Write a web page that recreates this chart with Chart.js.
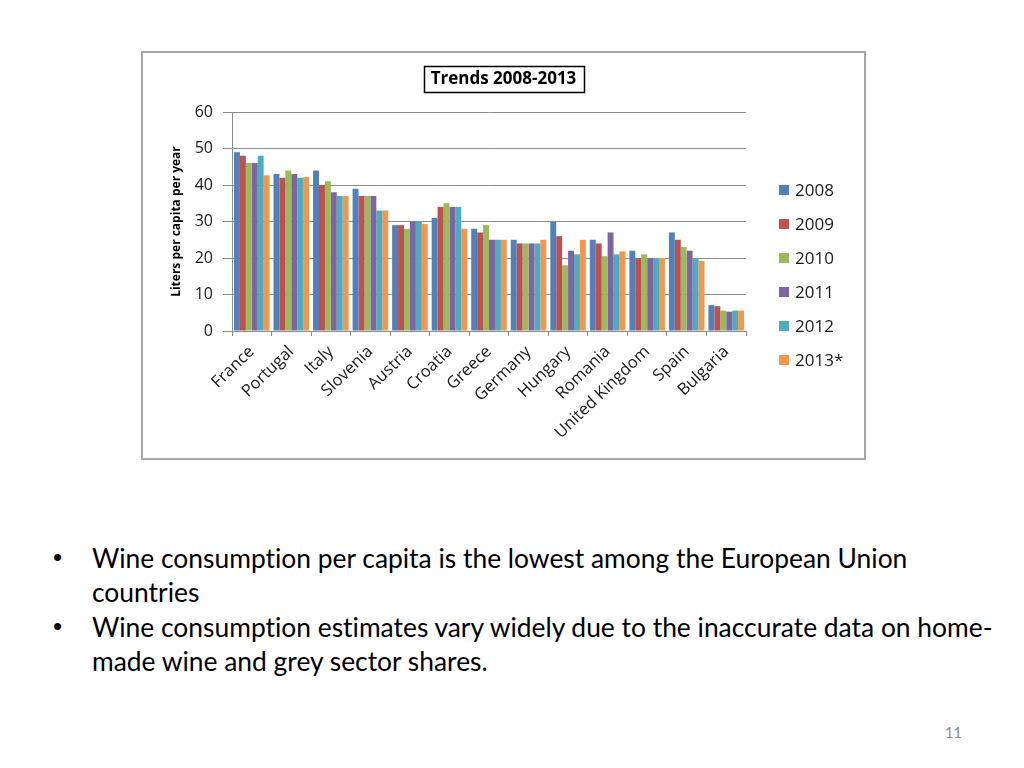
<!DOCTYPE html>
<html>
<head>
<meta charset="utf-8">
<script src="https://cdn.jsdelivr.net/npm/chart.js@4.4.1/dist/chart.umd.min.js"></script>
<style>
  html, body { margin: 0; padding: 0; background: #ffffff; width: 1024px; height: 768px; overflow: hidden; }
  #frame { position: absolute; left: 141px; top: 51px; width: 721px; height: 405px; border: 2px solid #a6a6a6; }
  #wrap { position: absolute; left: 143px; top: 53px; width: 721px; height: 405px; }
  #notes { position: absolute; left: 0; top: 540px; width: 1024px; font-family: Lato, "Open Sans", sans-serif; font-size: 26.4px; color: #000; font-variant-ligatures: none; }
  .line { position: absolute; white-space: nowrap; }
  .bul { position: absolute; left: 53px; font-family: "Liberation Sans", sans-serif; font-size: 26px; }
  #pageno { position: absolute; left: 945px; top: 724px; font-family: Lato, sans-serif; font-size: 14.5px; color: #8c8c8c; }
</style>
</head>
<body>
<div id="frame"></div>
<div id="wrap"><canvas id="c" width="721" height="405"></canvas></div>
<div id="notes">
  <div class="line bul" style="top:2px">•</div>
  <div class="line" style="left:92px; top:2px">Wine consumption per capita is the lowest among the European Union</div>
  <div class="line" style="left:92px; top:36px">countries</div>
  <div class="line bul" style="top:71px">•</div>
  <div class="line" style="left:92px; top:71px">Wine consumption estimates vary widely due to the inaccurate data on home-</div>
  <div class="line" style="left:92px; top:105px">made wine and grey sector shares.</div>
</div>
<div id="pageno">11</div>
<script>
const categories = ['France','Portugal','Italy','Slovenia','Austria','Croatia','Greece','Germany','Hungary','Romania','United Kingdom','Spain','Bulgaria'];
const seriesLabels = ['2008','2009','2010','2011','2012','2013*'];
const v2008 = [49, 43, 44, 39, 29, 31, 28, 25, 30, 25, 22, 27, 7.1];
const v2009 = [48, 42, 40, 37, 29, 34, 27, 24, 26, 24, 20, 25, 6.8];
const v2010 = [46, 44, 41, 37, 28, 35, 29, 24, 18, 20.5, 21, 23, 5.6];
const v2011 = [46, 43, 38, 37, 30, 34, 25, 24, 22, 27, 20, 22, 5.3];
const v2012 = [48, 42, 37, 33, 30, 34, 25, 24, 21, 21, 20, 20, 5.6];
const v2013 = [42.7, 42.2, 37, 33, 29.3, 28, 25, 25, 25, 21.8, 20, 19.2, 5.6];
const yTicks = [0, 10, 20, 30, 40, 50, 60];
const titleText = 'Trends 2008-2013';
const yTitle = 'Liters per capita per year';

const colors = ['#4F81BD','#C0504D','#9BBB59','#8064A2','#4BACC6','#F79646'];
const values = [v2008, v2009, v2010, v2011, v2012, v2013];

const TITLE_FONT = 17, TITLE_LH = TITLE_FONT * 1.2, TITLE_PAD_TOP = 26 - TITLE_LH / 2;

const titleBoxPlugin = {
  id: 'titleBox',
  afterDraw(chart) {
    const ctx = chart.ctx;
    const tb = chart.titleBlock;
    ctx.save();
    ctx.font = 'bold ' + TITLE_FONT + 'px "Open Sans"';
    const w = ctx.measureText(titleText).width;
    const cx = (tb.left + tb.right) / 2;
    const cy = tb.top + TITLE_PAD_TOP + TITLE_LH / 2;
    ctx.strokeStyle = '#000';
    ctx.lineWidth = 1.5;
    ctx.strokeRect(Math.round(cx - w / 2 - 7) + 0.5, Math.round(cy - 13) + 0.5, Math.round(w + 14), 26);
    ctx.restore();
  }
};

const legendPlugin = {
  id: 'customLegend',
  afterDraw(chart) {
    const ctx = chart.ctx;
    const x0 = chart.chartArea.right + 33;
    const y0 = 137;
    ctx.save();
    ctx.font = '17px "Open Sans"';
    ctx.textBaseline = 'middle';
    chart.data.datasets.forEach((ds, i) => {
      const y = y0 + i * 34;
      ctx.fillStyle = ds.backgroundColor;
      ctx.fillRect(x0, y - 5, 10, 10);
      ctx.fillStyle = '#1a1a1a';
      ctx.fillText(ds.label, x0 + 16, y + 1);
    });
    ctx.restore();
  }
};

new Chart(document.getElementById('c'), {
  type: 'bar',
  data: {
    labels: categories,
    datasets: seriesLabels.map((l, i) => ({
      label: l,
      data: values[i],
      backgroundColor: colors[i],
      borderWidth: 0,
      categoryPercentage: 0.9,
      barPercentage: 1.0
    }))
  },
  options: {
    responsive: false,
    animation: false,
    layout: { padding: 0 },
    plugins: {
      legend: { display: false },
      tooltip: { enabled: false },
      title: {
        display: true,
        text: titleText,
        color: '#000',
        font: { family: '"Open Sans"', size: TITLE_FONT, weight: 'bold' },
        padding: { top: TITLE_PAD_TOP, bottom: 59 - TITLE_PAD_TOP - TITLE_LH }
      }
    },
    scales: {
      x: {
        afterFit(scale) { scale.height = 127; },
        border: { color: '#8c8c8c', width: 1 },
        grid: { offset: true, drawOnChartArea: false, drawTicks: true, tickLength: 5, color: '#8c8c8c' },
        ticks: {
          color: '#1a1a1a',
          font: { family: '"Open Sans"', size: 16.5 },
          minRotation: 44, maxRotation: 44,
          autoSkip: false,
          padding: 6
        }
      },
      y: {
        min: 0, max: 60,
        afterFit(scale) { scale.width = 89; },
        afterBuildTicks(scale) { scale.ticks = yTicks.map(v => ({ value: v })); },
        border: { color: '#8c8c8c', width: 1 },
        grid: { color: '#8c8c8c', tickLength: 9, drawTicks: true },
        ticks: {
          color: '#1a1a1a',
          font: { family: '"Open Sans"', size: 16 },
          padding: 10
        },
        title: {
          display: true,
          text: yTitle,
          color: '#000',
          font: { family: '"Open Sans"', size: 12, weight: 'bold' },
          padding: { top: 26, bottom: 0 }
        }
      },
      legendSpace: {
        type: 'linear',
        position: 'right',
        display: true,
        afterFit(scale) { scale.width = 118; },
        border: { display: false },
        grid: { display: false, drawOnChartArea: false },
        ticks: { display: false }
      }
    }
  },
  plugins: [titleBoxPlugin, legendPlugin]
});
</script>
</body>
</html>
